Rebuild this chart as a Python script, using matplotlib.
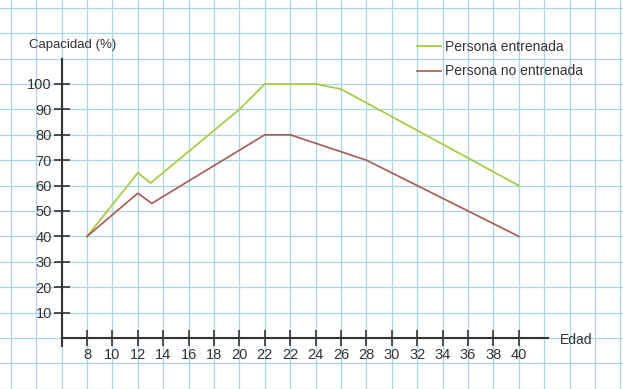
import matplotlib
matplotlib.use("Agg")
import matplotlib.pyplot as plt
import numpy as np

plt.rcParams["font.family"] = ["Liberation Sans Narrow", "Liberation Sans", "DejaVu Sans"]

# x axis is categorical: the book prints "22" twice
age_labels = ["8", "10", "12", "14", "16", "18", "20", "22", "22",
              "24", "26", "28", "30", "32", "34", "36", "38", "40"]
capacity_ticks = [10, 20, 30, 40, 50, 60, 70, 80, 90, 100]

# positions are tick indices along the age axis
trained_x = [0, 2, 2.5, 6, 7, 9, 10, 17]
trained_y = [40, 65, 61, 90, 100, 100, 98, 60]
untrained_x = [0, 2, 2.55, 7, 8, 11, 17]
untrained_y = [40, 57, 53, 80, 80, 70, 40]

GRID = "#a9d6e2"
INK = "#333333"
GREEN = "#a6cd48"
RED = "#a65a50"

fig = plt.figure(figsize=(6.23, 3.89), dpi=100)
ax = fig.add_axes([0, 0, 1, 1])

ax.plot(trained_x, trained_y, color=GREEN, lw=1.3, label="Persona entrenada", zorder=3)
ax.plot(untrained_x, untrained_y, color=RED, lw=1.2, label="Persona no entrenada", zorder=3)

# one grid cell = one age tick = 10 %
ax.set_xlim(-3.425, 21.10)
ax.set_ylim(-20.08, 133.07)

ax.set_xticks(np.arange(-3, 22), minor=True)
ax.set_yticks(np.arange(-20, 131, 10), minor=True)
ax.set_xticks(range(len(age_labels)))
ax.set_xticklabels(age_labels)
ax.set_yticks(capacity_ticks)
ax.grid(True, which="both", color=GRID, lw=0.9, zorder=0)
ax.set_axisbelow(True)

for side in ("top", "right"):
    ax.spines[side].set_visible(False)
ax.spines["left"].set_position(("data", -1))
ax.spines["left"].set_bounds(-3, 110)
ax.spines["bottom"].set_position(("data", 0))
ax.spines["bottom"].set_bounds(-1, 18.15)
for side in ("left", "bottom"):
    ax.spines[side].set_color(INK)
    ax.spines[side].set_linewidth(1.5)
    ax.spines[side].set_zorder(2)

ax.tick_params(which="minor", length=0)
ax.tick_params(which="major", direction="inout", length=11, width=1.2,
               color=INK, labelcolor=INK, labelsize=10.5)
ax.tick_params(axis="y", pad=1.5)
ax.tick_params(axis="x", pad=1.5)

ax.text(29 / 623, 1 - 45 / 389, "Capacidad (%)", transform=ax.transAxes,
        ha="left", va="center", fontsize=9.5, color=INK)
ax.text(560 / 623, 1 - 340 / 389, "Edad", transform=ax.transAxes,
        ha="left", va="center", fontsize=10, color=INK)

ax.legend(loc="upper left", bbox_to_anchor=(417 / 623, 1 - 40 / 389),
          frameon=False, fontsize=10, handlelength=1.75, handletextpad=0.25,
          labelspacing=0.75, borderpad=0, borderaxespad=0, labelcolor=INK)

fig.savefig("out.png", dpi=100)
plt.close(fig)
